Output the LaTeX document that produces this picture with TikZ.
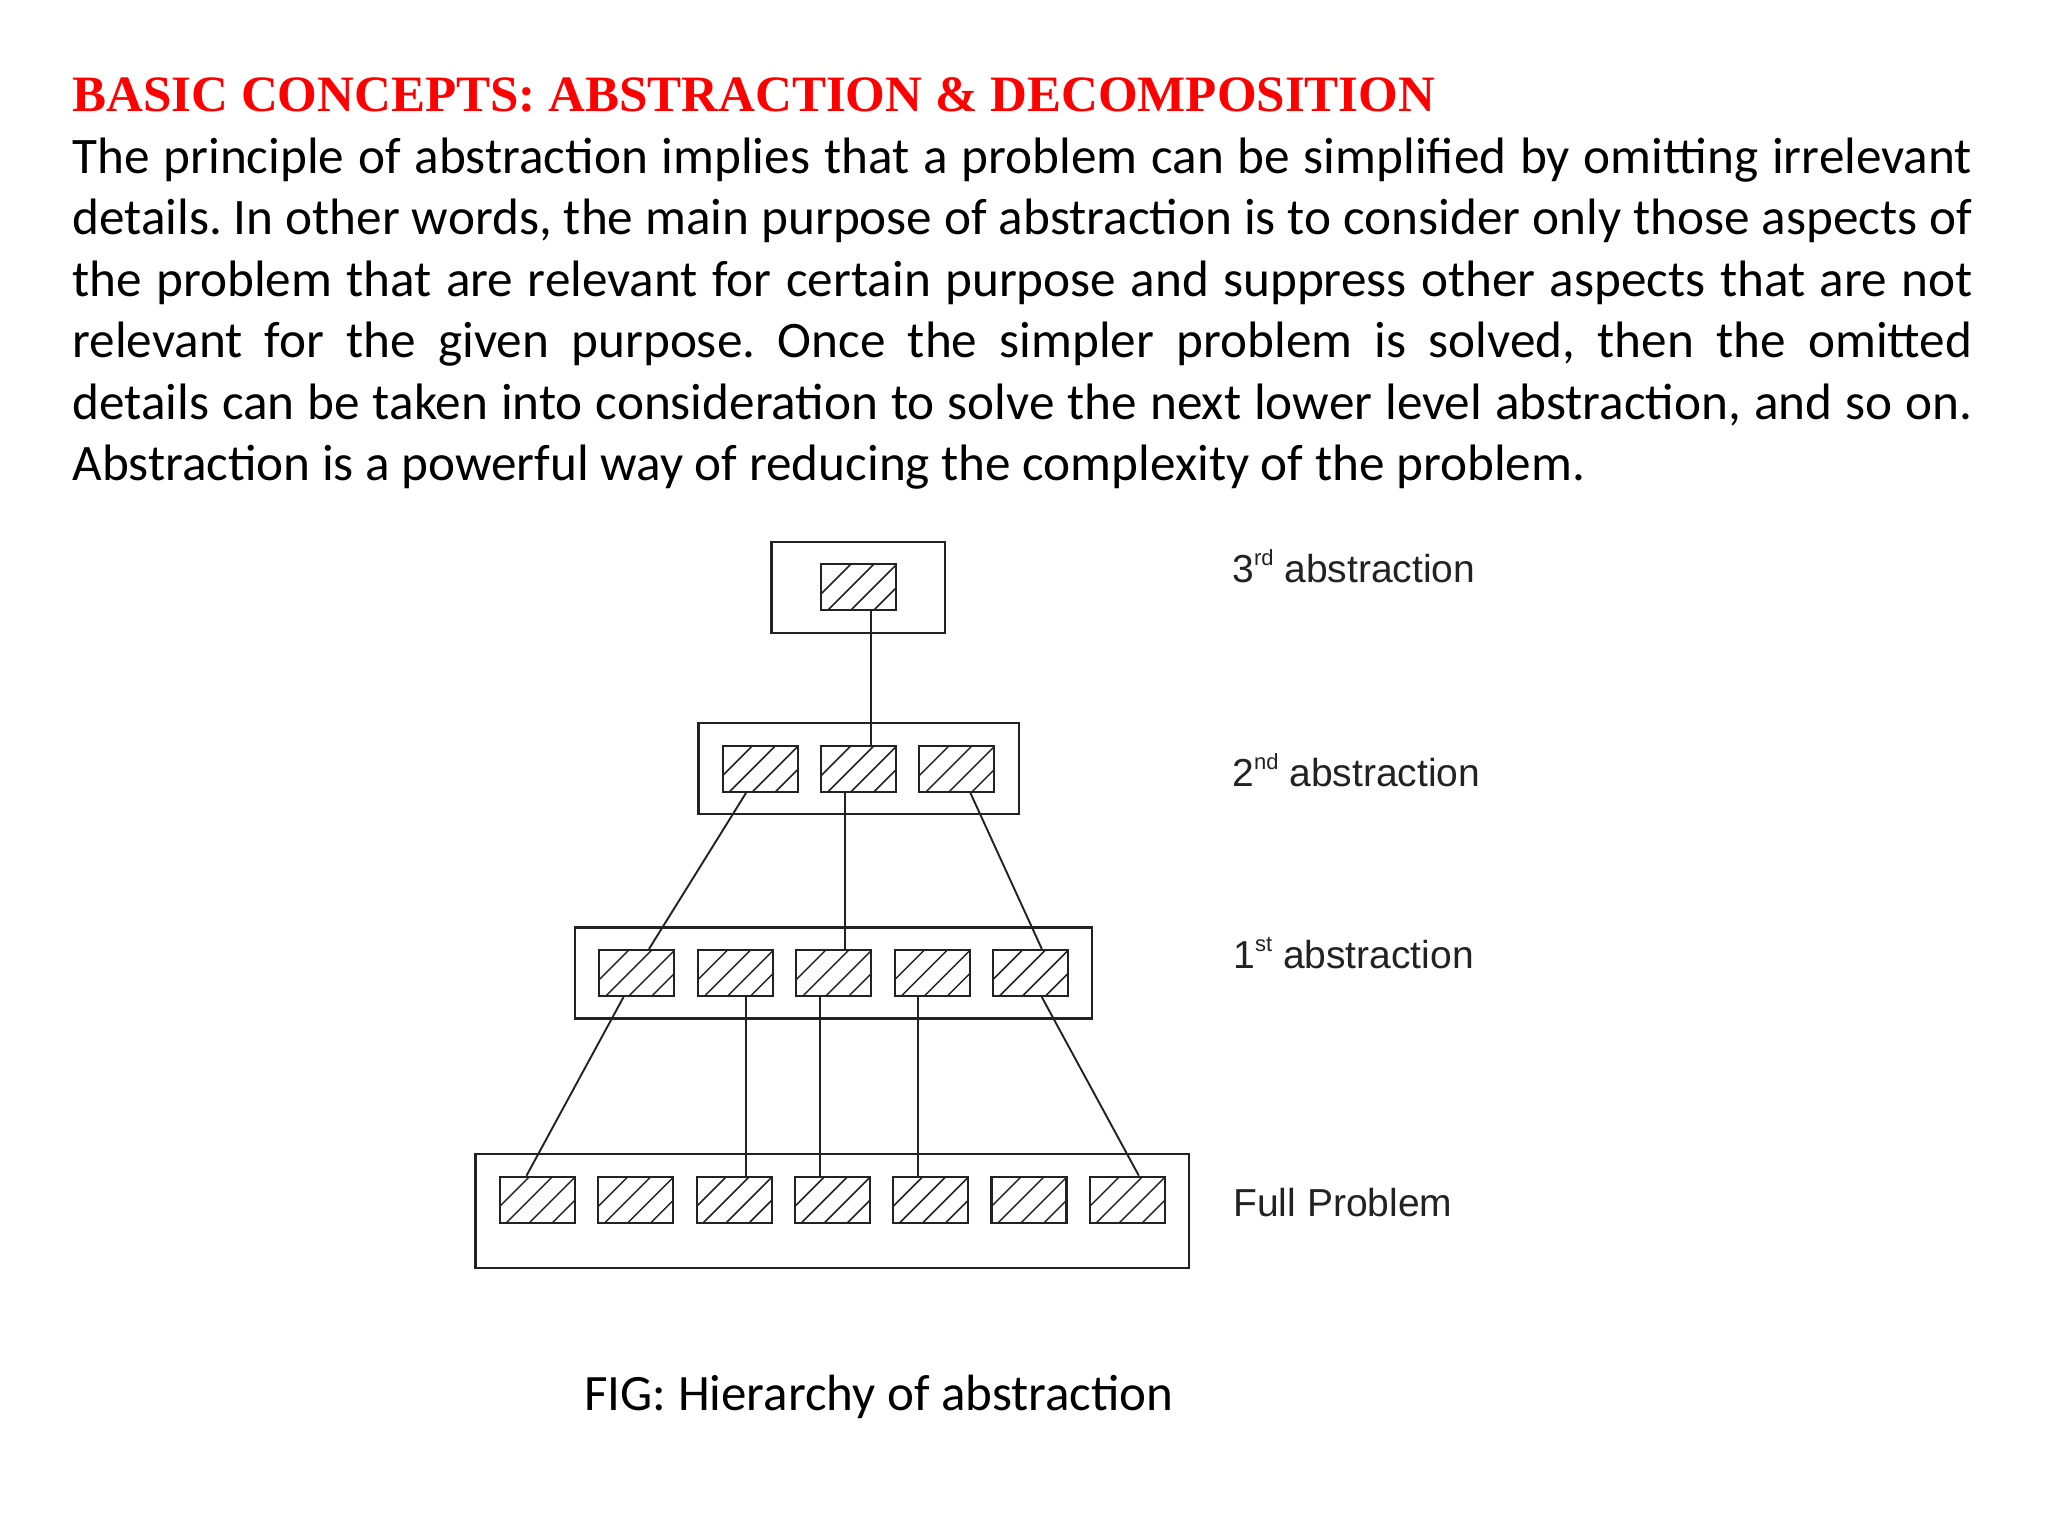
\documentclass[tikz,border=0pt]{standalone}
\usepackage{fontspec}
\setmainfont{Carlito}
\newfontfamily\titlefont{Liberation Serif}
\newfontfamily\labelfont{Liberation Sans}
\usetikzlibrary{calc}
\definecolor{titlered}{HTML}{FF0000}
\definecolor{ink}{HTML}{222222}
\tikzset{
  hatchbox/.style={draw=ink, line width=1.05pt, fill=white, minimum width=37.5pt, minimum height=23pt, inner sep=0pt,
    path picture={\foreach \k in {-1,0,1,2} {\draw[ink, line width=0.75pt] ([xshift=\k*11.5pt+3.3pt]path picture bounding box.south west) -- ++(30pt,30pt);}}},
  outerbox/.style={draw=ink, line width=1.1pt, inner sep=0pt},
  conn/.style={draw=ink, line width=0.95pt},
  lvl/.style={anchor=base west, inner sep=0pt, font=\labelfont\fontsize{19.5}{22}\selectfont, text=ink},
}
\newcommand{\supx}[1]{\raisebox{8.5pt}{\fontsize{11}{11}\selectfont #1}}
\begin{document}
\frenchspacing
\begin{tikzpicture}[x=0.5pt,y=-0.5pt]
\useasboundingbox[fill=white] (0,0) rectangle (2048,1536);

% title
\node[anchor=base west, inner sep=0pt, text=titlered, font=\titlefont\bfseries\fontsize{25.5}{30}\selectfont] (title) at (72,112) {BASIC CONCEPTS: ABSTRACTION \& DECOMPOSITION};

% body
\node[anchor=base west, inner sep=0pt] (body) at (72,173.5) {\begin{minipage}[t]{950pt}\fontsize{25.6}{30.7}\selectfont\frenchspacing
The principle of abstraction implies that a problem can be simplified by omitting irrelevant\linebreak
details. In other words, the main purpose of abstraction is to consider only those aspects of\linebreak
the problem that are relevant for certain purpose and suppress other aspects that are not\linebreak
relevant for the given purpose. Once the simpler problem is solved, then the omitted\linebreak
details can be taken into consideration to solve the next lower level abstraction, and so on.\linebreak
Abstraction is a powerful way of reducing the complexity of the problem.
\end{minipage}};

% outer boxes
\node[outerbox, minimum width=86.75pt, minimum height=45.5pt] (L3) at (858.2,587.2) {};
\node[outerbox, minimum width=160.2pt, minimum height=45.5pt] (L2) at (858.7,768.8) {};
\node[outerbox, minimum width=258.4pt, minimum height=45.5pt] (L1) at (833.4,973) {};
\node[outerbox, minimum width=356.65pt, minimum height=56.7pt] (L0) at (832.2,1211) {};

% inner hatched boxes
\node[hatchbox] (t1) at (858.7,587.2) {};
\node[hatchbox] (s1) at (760.2,768.9) {};
\node[hatchbox] (s2) at (858.7,768.9) {};
\node[hatchbox] (s3) at (956.9,768.9) {};
\foreach \n/\x in {1/636.8,2/735.5,3/833.7,4/932.2,5/1030.4} \node[hatchbox] (f\n) at (\x,973) {};
\foreach \n/\x in {1/537.3,2/635.8,3/734.2,4/832.4,5/930.7,6/1029,7/1127.3} \node[hatchbox] (p\n) at (\x,1199.7) {};

% connectors
\draw[conn] ([xshift=6.15pt]t1.south) -- ([xshift=6.15pt]s2.north);
\draw[conn] ([xshift=-7.1pt]s1.south) -- ([xshift=6.1pt]f1.north);
\draw[conn] ([xshift=-6.65pt]s2.south) -- ([xshift=5.85pt]f3.north);
\draw[conn] ([xshift=6.75pt]s3.south) -- ([xshift=5.7pt]f5.north);
\draw[conn] ([xshift=-6.65pt]f1.south) -- ([xshift=-5.4pt]p1.north);
\draw[conn] ([xshift=5.45pt]f2.south) -- ([xshift=6.1pt]p3.north);
\draw[conn] ([xshift=-6.65pt]f3.south) -- ([xshift=-6pt]p4.north);
\draw[conn] ([xshift=-6.9pt]f4.south) -- ([xshift=-6.15pt]p5.north);
\draw[conn] ([xshift=5.7pt]f5.south) -- ([xshift=5.75pt]p7.north);

% level labels
\node[lvl] (lab3) at (1232,582) {3\supx{rd} abstraction};
\node[lvl] (lab2) at (1232,786) {2\supx{nd} abstraction};
\node[lvl] (lab1) at (1233,968) {1\supx{st} abstraction};
\node[lvl] (lab0) at (1233,1216) {Full Problem};

% caption
\node[anchor=base west, inner sep=0pt, font=\fontsize{25.5}{30}\selectfont] (cap) at (584,1410) {FIG: Hierarchy of abstraction};
\end{tikzpicture}
\end{document}
